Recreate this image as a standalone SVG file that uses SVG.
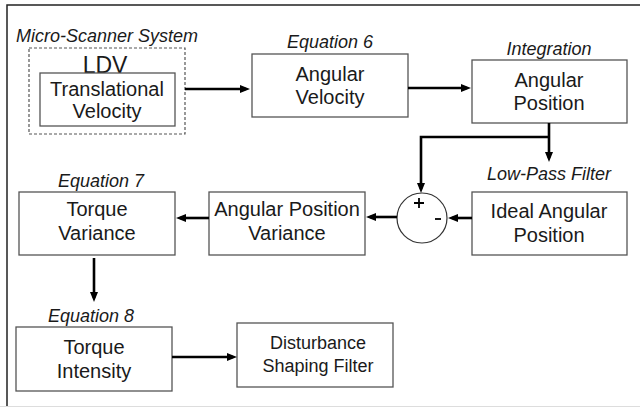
<svg xmlns="http://www.w3.org/2000/svg" width="640" height="408" viewBox="0 0 640 408">
<style>
.box{fill:#fff;stroke:#555;stroke-width:1.3}
.t{font-family:"Liberation Sans",Arial,sans-serif;font-size:20px;fill:#1a1a1a;text-anchor:middle}
.s{font-size:18px}
.i{font-family:"Liberation Sans",Arial,sans-serif;font-size:18px;font-style:italic;fill:#1a1a1a;text-anchor:middle}
.c{fill:none;stroke:#000;stroke-width:2.6;marker-end:url(#ah)}
</style>
<defs>
<marker id="ah" markerUnits="userSpaceOnUse" markerWidth="11" markerHeight="9" refX="6" refY="4" orient="auto">
<path d="M0,0 L10,4 L0,8 z" fill="#000"/>
</marker>
</defs>
<rect width="640" height="408" fill="#fff"/>
<path d="M7,406 V5 H640" fill="none" stroke="#222" stroke-width="1.5"/>
<path d="M0,406.5 H640" stroke="#ddd" stroke-width="1"/>

<g id="micro-scanner">
<rect x="29" y="48" width="156" height="86" fill="none" stroke="#555" stroke-width="1.2" stroke-dasharray="3,2"/>
<text class="i" x="107" y="42">Micro-Scanner System</text>
<text class="t" x="105" y="73" style="font-size:23px">LDV</text>
</g>
<g id="translational-velocity">
<rect class="box" x="40" y="73" width="135" height="53"/>
<text class="t" x="107" y="96">Translational</text>
<text class="t" x="107" y="118">Velocity</text>
</g>
<g id="angular-velocity">
<text class="i" x="330" y="48">Equation 6</text>
<rect class="box" x="252" y="54" width="156" height="63"/>
<text class="t" x="330" y="81">Angular</text>
<text class="t" x="330" y="104">Velocity</text>
</g>
<g id="angular-position">
<text class="i" x="549" y="55">Integration</text>
<rect class="box" x="472" y="60" width="155" height="63"/>
<text class="t" x="549" y="87">Angular</text>
<text class="t" x="549" y="110">Position</text>
</g>
<g id="ideal-angular-position">
<text class="i" x="549" y="180">Low-Pass Filter</text>
<rect class="box" x="472" y="192" width="155" height="63"/>
<text class="t" x="549" y="218">Ideal Angular</text>
<text class="t" x="549" y="242">Position</text>
</g>
<g id="sum">
<circle cx="422" cy="218" r="25" fill="#fff" stroke="#333" stroke-width="1.2"/>
<path d="M414,203 H424 M419,198 V208" stroke="#000" stroke-width="1.8"/>
<path d="M435,219 H441" stroke="#000" stroke-width="1.8"/>
</g>
<g id="angular-position-variance">
<rect class="box" x="209" y="192" width="156" height="63"/>
<text class="t" x="287" y="216">Angular Position</text>
<text class="t" x="287" y="240">Variance</text>
</g>
<g id="torque-variance">
<text class="i" x="101" y="187">Equation 7</text>
<rect class="box" x="19" y="192" width="156" height="63"/>
<text class="t" x="97" y="216">Torque</text>
<text class="t" x="97" y="240">Variance</text>
</g>
<g id="torque-intensity">
<text class="i" x="91" y="322">Equation 8</text>
<rect class="box" x="16" y="327" width="156" height="64"/>
<text class="t" x="94" y="354">Torque</text>
<text class="t" x="94" y="378">Intensity</text>
</g>
<g id="disturbance-shaping-filter">
<rect class="box" x="237" y="323" width="156" height="64"/>
<text class="t s" x="318" y="349">Disturbance</text>
<text class="t s" x="318" y="372">Shaping Filter</text>
</g>

<g id="connectors">
<path class="c" d="M185,89 H246"/>
<path class="c" d="M408,88 H467"/>
<path class="c" d="M549,123 V158"/>
<path class="c" d="M549,137 H421 V189"/>
<path class="c" d="M472,218 H452"/>
<path class="c" d="M397,217 H370"/>
<path class="c" d="M209,218 H180"/>
<path class="c" d="M94,258 V298"/>
<path class="c" d="M172,357 H233"/>
</g>
</svg>
